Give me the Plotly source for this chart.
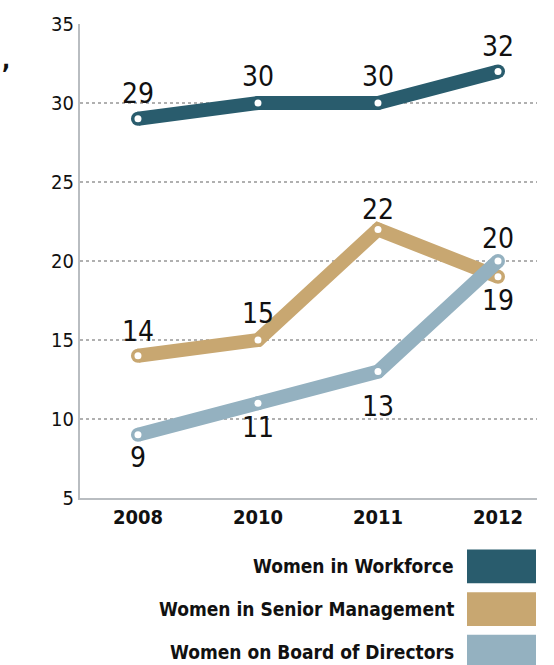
import plotly.graph_objects as go

# ---- data ----
years = ["2008", "2010", "2011", "2012"]
series_names = ["Women in Workforce", "Women in Senior Management", "Women on Board of Directors"]
workforce = [29, 30, 30, 32]
senior_mgmt = [14, 15, 22, 19]
board = [9, 11, 13, 20]
y_ticks = [5, 10, 15, 20, 25, 30, 35]

# ---- styling ----
colors = ["#295c6d", "#c8a771", "#94b1c0"]
# vertical offset (px) of each value label from its point
label_shift = [
    [25, 27, 27, 25],
    [24, 27, 20, -24],
    [-23, -24, -35, 23],
]
NUM_FONT = "Liberation Sans Narrow, Arial Narrow, DejaVu Sans Condensed, sans-serif"

W, H = 554, 665
L, R, T, B = 80, 17, 20, 167
PW, PH = W - L - R, H - T - B


def px_x(px):
    return (px - L) / PW


def px_y(py):
    return (H - B - py) / PH


xs = list(range(len(years)))
fig = go.Figure()

for vals, col, shifts in zip([workforce, senior_mgmt, board], colors, label_shift):
    # thick line with rounded ends
    fig.add_trace(go.Scatter(
        x=xs, y=vals, mode="lines+markers",
        line=dict(color=col, width=14),
        marker=dict(color=col, size=14),
        hoverinfo="skip", showlegend=False,
    ))
    # white dots on the points
    fig.add_trace(go.Scatter(
        x=xs, y=vals, mode="markers",
        marker=dict(color="white", size=7),
        hoverinfo="skip", showlegend=False,
    ))
    for xi, v, s in zip(xs, vals, shifts):
        fig.add_annotation(
            x=xi, y=v, text=str(v), showarrow=False,
            yshift=s, xanchor="center", yanchor="middle",
            font=dict(family=NUM_FONT, size=28, color="#111111"),
        )

# legend swatches and labels
legend_rows = [(550, 584), (593, 627), (636, 670)]
for (y0, y1), col, name in zip(legend_rows, colors, series_names):
    fig.add_shape(
        type="rect", xref="paper", yref="paper",
        x0=px_x(467), x1=px_x(536), y0=px_y(y1), y1=px_y(y0),
        fillcolor=col, line=dict(width=0),
    )
    fig.add_annotation(
        xref="paper", yref="paper", x=px_x(456), y=px_y((y0 + y1) / 2),
        text=name, showarrow=False, xanchor="right", yanchor="middle",
        font=dict(family=NUM_FONT, size=19, color="#111111", weight="bold"),
    )

fig.add_annotation(
    xref="paper", yref="paper", x=px_x(0), y=px_y(56), text=",",
    showarrow=False, xanchor="left", yanchor="middle",
    font=dict(family=NUM_FONT, size=24, color="#111111", weight="bold"),
)

fig.update_xaxes(
    range=[-0.483, 3.325], tickvals=xs, ticktext=years,
    showgrid=False, zeroline=False,
    showline=True, linecolor="#b9bdc1", linewidth=2,
    ticks="", tickfont=dict(family=NUM_FONT, size=20, color="#111111", weight="bold"),
)
fig.update_yaxes(
    range=[5, 35], tickvals=y_ticks,
    showgrid=True, gridcolor="#b0b0b0", gridwidth=2, griddash="dot",
    zeroline=False, showline=True, linecolor="#b9bdc1", linewidth=2,
    ticks="", tickfont=dict(family=NUM_FONT, size=20, color="#111111"),
)
fig.update_layout(
    width=W, height=H,
    margin=dict(l=L, r=R, t=T, b=B),
    paper_bgcolor="white", plot_bgcolor="white",
    showlegend=False,
)

fig.write_html("out.html")
